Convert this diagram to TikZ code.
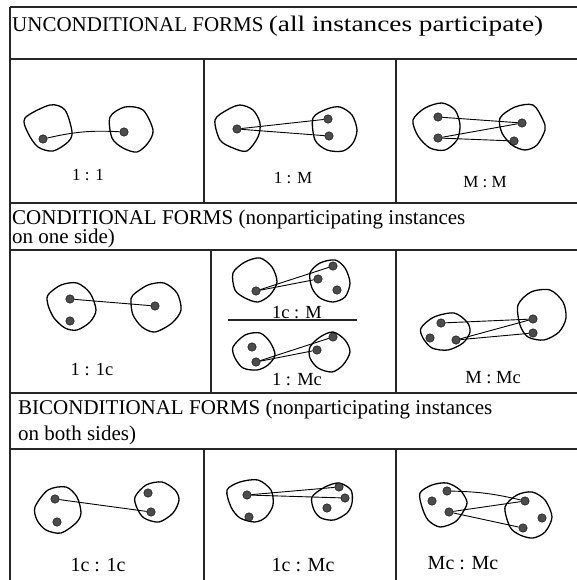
\documentclass[tikz,border=0pt]{standalone}
\usepackage{graphicx}
\usepackage{fontspec}
\setmainfont{Liberation Serif}

\begin{document}
\begin{tikzpicture}[x=1pt, y=-1pt,
    dot/.style={circle, draw=black, fill=black!70, inner sep=0pt, minimum size=8.5pt},
    blob/.style={line width=1.3pt, line join=round},
    link/.style={line width=0.9pt},
    rule/.style={line width=1.6pt, black!85},
    head/.style={anchor=base west, inner sep=0pt, font=\fontsize{21}{23}\selectfont},
    lbl/.style={inner sep=0pt, font=\fontsize{17}{19}\selectfont}]
    \useasboundingbox (0,0) rectangle (577,580);

    % Table frame
    \draw [rule] (10,7) -- (577,7);
    \draw [rule] (10,7) -- (10,580);
    \foreach \y in {59,203,250,393,449}
        \draw [rule] (10,\y) -- (577,\y);
    \draw [rule] (204,59) -- (204,203);
    \draw [rule] (396,59) -- (396,203);
    \draw [rule] (211,250) -- (211,393);
    \draw [rule] (396,250) -- (396,393);
    \draw [rule] (204,449) -- (204,580);
    \draw [rule] (396,449) -- (396,580);

    % Headings
    \node [head] (h1) at (12,32) {UNCONDITIONAL FORMS \scalebox{1.3}[1.06]{(all instances participate)}};
    \node [head] (h2) at (12,224) {CONDITIONAL FORMS (nonparticipating instances};
    \node [head] (h2b) at (12,243) {on one side)};
    \node [head] (h3) at (18,414) {BICONDITIONAL FORMS (nonparticipating instances};
    \node [head] (h3b) at (18,440) {on both sides)};

    % 1 : 1
    \draw [blob] plot[smooth cycle, tension=0.5] coordinates {(25,118) (50,105) (65,110) (72,132) (68,142) (53,151) (38,147) (28,133)};
    \draw [blob] plot[smooth cycle, tension=0.5] coordinates {(110,117) (125,107) (143,110) (153,130) (148,143) (137,152) (123,148) (112,138)};
    \node [dot] (u1a) at (43,139) {};
    \node [dot] (u1b) at (124,132) {};
    \draw [link] (u1a) to[bend left=8] (u1b);
    \node [lbl] (l1) at (88,175) {1 : 1};

    % 1 : M
    \draw [blob] plot[smooth cycle, tension=0.5] coordinates {(215,120) (227,110) (240,105) (253,110) (260,123) (258,137) (247,151) (233,148) (220,140)};
    \draw [blob] plot[smooth cycle, tension=0.5] coordinates {(313,118) (327,109) (340,107) (352,115) (357,130) (353,143) (343,151) (327,150) (315,140)};
    \node [dot] (u2a) at (237,129) {};
    \node [dot] (u2b) at (328,119) {};
    \node [dot] (u2c) at (329,136) {};
    \draw [link] (u2a) -- (u2b);
    \draw [link] (u2a) -- (u2c);
    \node [lbl] (l2) at (293,178) {1 : M};

    % M : M
    \draw [blob] plot[smooth cycle, tension=0.5] coordinates {(413,120) (425,108) (442,103) (455,110) (460,125) (457,140) (445,150) (430,148) (418,136)};
    \draw [blob] plot[smooth cycle, tension=0.5] coordinates {(500,118) (515,107) (533,105) (543,120) (545,130) (537,145) (525,150) (512,145) (502,133)};
    \node [dot] (u3a) at (438,117) {};
    \node [dot] (u3b) at (438,138) {};
    \node [dot] (u3c) at (522,123) {};
    \node [dot] (u3d) at (514,141) {};
    \draw [link] (u3a) -- (u3c);
    \draw [link] (u3b) -- (u3c);
    \draw [link] (u3b) -- (u3d);
    \node [lbl] (l3) at (485,182) {M : M};

    % 1 : 1c
    \draw [blob] plot[smooth cycle, tension=0.5] coordinates {(48,295) (61,285) (77,283) (90,293) (96,310) (90,322) (77,330) (65,328) (54,318) (48,305)};
    \draw [blob] plot[smooth cycle, tension=0.5] coordinates {(133,295) (148,285) (164,283) (177,293) (181,310) (172,323) (155,332) (142,327) (133,315) (131,302)};
    \node [dot] (c1a) at (70,299) {};
    \node [dot] (c1b) at (70,321) {};
    \node [dot] (c1c) at (155,306) {};
    \draw [link] (c1a) -- (c1c);
    \node [lbl, font=\fontsize{18.5}{20}\selectfont] (l4) at (92,370) {1 : 1c};

    % 1c : M over 1 : Mc
    \draw [blob] plot[smooth cycle, tension=0.5] coordinates {(233,273) (245,262) (260,258) (272,267) (277,282) (270,295) (258,302) (245,298) (235,290)};
    \draw [blob] plot[smooth cycle, tension=0.5] coordinates {(310,273) (320,263) (335,260) (345,268) (350,283) (345,297) (333,302) (320,298) (312,288)};
    \node [dot] (c2a) at (256,291) {};
    \node [dot] (c2b) at (333,266) {};
    \node [dot] (c2c) at (318,279) {};
    \node [dot] (c2d) at (337,290) {};
    \draw [link] (c2a) -- (c2b);
    \draw [link] (c2a) -- (c2c);
    \node [lbl, font=\fontsize{18.5}{20}\selectfont] (l5) at (297,313) {1c : M};
    \draw [rule] (228,320) -- (357,320);
    \draw [blob] plot[smooth cycle, tension=0.5] coordinates {(233,347) (245,335) (260,333) (270,342) (275,355) (268,365) (257,370) (243,368) (235,358)};
    \draw [blob] plot[smooth cycle, tension=0.5] coordinates {(310,347) (320,337) (333,332) (345,340) (350,352) (343,365) (332,372) (318,368) (310,358)};
    \node [dot] (c2e) at (252,347) {};
    \node [dot] (c2f) at (256,362) {};
    \node [dot] (c2g) at (333,337) {};
    \node [dot] (c2h) at (317,350) {};
    \draw [link] (c2f) -- (c2g);
    \draw [link] (c2f) -- (c2h);
    \node [lbl, font=\fontsize{18.5}{20}\selectfont] (l6) at (297,380) {1 : Mc};

    % M : Mc
    \draw [blob] plot[smooth cycle, tension=0.5] coordinates {(421,328) (434,317) (454,313) (467,322) (470,332) (463,343) (448,350) (432,348) (423,338)};
    \draw [blob] plot[smooth cycle, tension=0.5] coordinates {(518,305) (531,292) (550,290) (563,302) (566,318) (559,332) (544,340) (528,337) (520,325)};
    \node [dot] (c3a) at (441,323) {};
    \node [dot] (c3b) at (430,338) {};
    \node [dot] (c3c) at (456,340) {};
    \node [dot] (c3d) at (533,319) {};
    \node [dot] (c3e) at (533,333) {};
    \draw [link] (c3a) -- (c3d);
    \draw [link] (c3c) -- (c3d);
    \draw [link] (c3c) -- (c3e);
    \node [lbl, font=\fontsize{18.5}{20}\selectfont] (l7) at (493,378) {M : Mc};

    % 1c : 1c
    \draw [blob] plot[smooth cycle, tension=0.5] coordinates {(35,507) (48,490) (66,487) (77,497) (81,513) (76,523) (61,533) (46,530) (37,520)};
    \draw [blob] plot[smooth cycle, tension=0.5] coordinates {(135,497) (146,485) (162,482) (175,490) (179,500) (173,513) (159,522) (144,518) (137,508)};
    \node [dot] (b1a) at (55,499) {};
    \node [dot] (b1b) at (57,522) {};
    \node [dot] (b1c) at (148,493) {};
    \node [dot] (b1d) at (151,512) {};
    \draw [link] (b1a) -- (b1d);
    \node [lbl, font=\fontsize{20}{22}\selectfont] (l8) at (98,565) {1c : 1c};

    % 1c : Mc
    \draw [blob] plot[smooth cycle, tension=0.5] coordinates {(227,490) (240,482) (258,480) (271,490) (273,505) (266,517) (255,522) (240,518) (231,507)};
    \draw [blob] plot[smooth cycle, tension=0.5] coordinates {(312,497) (325,487) (339,483) (351,490) (352,503) (347,513) (334,520) (321,518) (314,510)};
    \node [dot] (b2a) at (247,495) {};
    \node [dot] (b2b) at (249,517) {};
    \node [dot] (b2c) at (339,487) {};
    \node [dot] (b2d) at (345,498) {};
    \node [dot] (b2e) at (327,508) {};
    \draw [link] (b2a) -- (b2c);
    \draw [link] (b2a) -- (b2d);
    \node [lbl, font=\fontsize{20}{22}\selectfont] (l9) at (303,565) {1c : Mc};

    % Mc : Mc
    \draw [blob] plot[smooth cycle, tension=0.5] coordinates {(420,493) (432,485) (447,483) (460,490) (467,502) (463,512) (455,522) (440,527) (428,520) (422,507)};
    \draw [blob] plot[smooth cycle, tension=0.5] coordinates {(505,507) (517,495) (532,492) (545,500) (552,517) (545,532) (533,538) (520,535) (510,527)};
    \node [dot] (b3a) at (447,491) {};
    \node [dot] (b3b) at (432,501) {};
    \node [dot] (b3c) at (449,512) {};
    \node [dot] (b3d) at (525,501) {};
    \node [dot] (b3e) at (542,518) {};
    \node [dot] (b3f) at (523,528) {};
    \draw [link] (b3a) to[bend left=6] (b3d);
    \draw [link] (b3c) -- (b3d);
    \draw [link] (b3c) -- (b3f);
    \node [lbl, font=\fontsize{20}{22}\selectfont] (l10) at (463,563) {Mc : Mc};
\end{tikzpicture}
\end{document}
